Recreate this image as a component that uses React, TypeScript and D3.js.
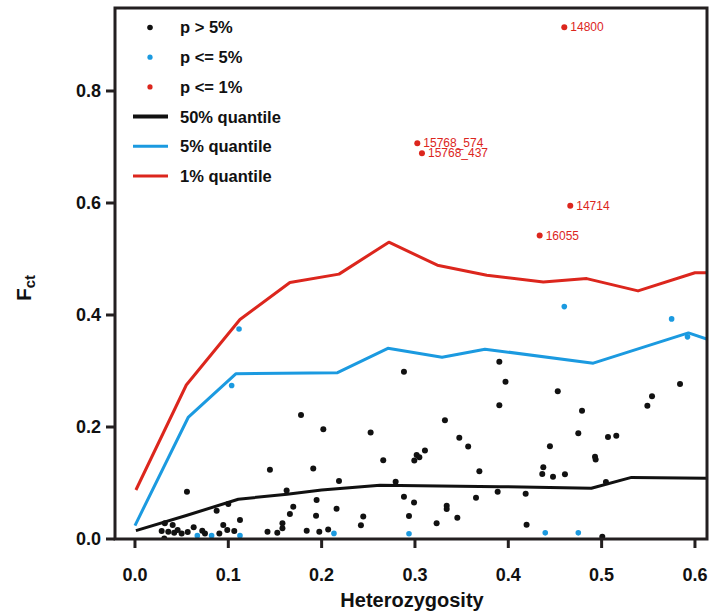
import React, { useEffect, useRef } from "react";
import * as d3 from "d3";

// ---- data ----
const blackPoints: [number, number][] = [
  [0.0557, 0.0845], [0.032, 0.028], [0.0404, 0.025], [0.0286, 0.0143], [0.0357, 0.013],
  [0.042, 0.0113], [0.0457, 0.016], [0.05, 0.01], [0.0565, 0.0125], [0.0629, 0.021],
  [0.0314, 0.001], [0.0721, 0.0148], [0.075, 0.01], [0.0904, 0.01], [0.0946, 0.025],
  [0.0989, 0.016], [0.1064, 0.0143], [0.1125, 0.034], [0.0875, 0.0505], [0.1, 0.0625],
  [0.1446, 0.1235], [0.1779, 0.2214], [0.191, 0.126], [0.2186, 0.1036], [0.1625, 0.0865],
  [0.1946, 0.0696], [0.1696, 0.0577], [0.166, 0.0446], [0.194, 0.0417], [0.216, 0.054],
  [0.158, 0.028], [0.158, 0.019], [0.142, 0.013], [0.1525, 0.0113], [0.184, 0.0148],
  [0.1975, 0.013], [0.207, 0.017],
  [0.2882, 0.2988], [0.2018, 0.196], [0.2525, 0.19], [0.3904, 0.239], [0.3904, 0.3166],
  [0.3321, 0.212], [0.3475, 0.181], [0.357, 0.165], [0.266, 0.1405], [0.3018, 0.15],
  [0.2993, 0.14], [0.3047, 0.146], [0.3107, 0.158], [0.2793, 0.1023], [0.369, 0.121],
  [0.3886, 0.0845], [0.2882, 0.0756], [0.299, 0.065], [0.3654, 0.0738], [0.334, 0.0595],
  [0.334, 0.0536], [0.2936, 0.041], [0.3454, 0.038], [0.3232, 0.028], [0.2446, 0.04],
  [0.2421, 0.0245],
  [0.397, 0.281], [0.453, 0.264], [0.479, 0.229], [0.475, 0.189], [0.4446, 0.1655],
  [0.5068, 0.182], [0.5157, 0.1845], [0.4929, 0.147], [0.4936, 0.142], [0.4375, 0.128],
  [0.4364, 0.116], [0.4479, 0.111], [0.4607, 0.1155], [0.584, 0.277], [0.554, 0.255],
  [0.549, 0.238], [0.4186, 0.081], [0.4196, 0.0256], [0.5046, 0.102], [0.5007, 0.004],
];

const bluePoints: [number, number][] = [
  [0.0668, 0.006], [0.0821, 0.006], [0.1125, 0.006], [0.1036, 0.274], [0.1115, 0.375],
  [0.2132, 0.01], [0.2936, 0.0095], [0.4396, 0.011], [0.475, 0.011], [0.46, 0.415],
  [0.575, 0.393], [0.592, 0.361],
];

const redPoints: [number, number, string][] = [
  [0.46, 0.914, "14800"],
  [0.3025, 0.7066, "15768_574"],
  [0.3075, 0.689, "15768_437"],
  [0.4664, 0.595, "14714"],
  [0.4336, 0.542, "16055"],
];

const q50: [number, number][] = [
  [0.001, 0.015], [0.055, 0.042], [0.1107, 0.071], [0.163, 0.08], [0.2, 0.0875],
  [0.2625, 0.096], [0.326, 0.0945], [0.391, 0.0934], [0.489, 0.0905], [0.532, 0.11], [0.64, 0.108],
];
const q05: [number, number][] = [
  [0.0, 0.024], [0.057, 0.217], [0.108, 0.295], [0.217, 0.297], [0.271, 0.3405],
  [0.329, 0.3245], [0.375, 0.339], [0.491, 0.314], [0.593, 0.368], [0.64, 0.342],
];
const q01: [number, number][] = [
  [0.001, 0.0875], [0.055, 0.275], [0.1125, 0.392], [0.166, 0.458], [0.2186, 0.473],
  [0.272, 0.53], [0.324, 0.489], [0.377, 0.471], [0.4375, 0.459], [0.484, 0.465],
  [0.539, 0.443], [0.6, 0.4755], [0.64, 0.4755],
];

const xTicks = [0.0, 0.1, 0.2, 0.3, 0.4, 0.5, 0.6];
const yTicks = [0.0, 0.2, 0.4, 0.6, 0.8];
const legendLabels = ["p > 5%", "p <= 5%", "p <= 1%", "50% quantile", "5% quantile", "1% quantile"];

const BLACK = "#111111";
const BLUE = "#1b9ae0";
const RED = "#dc261d";
const AXIS = "#231f20";
const FONT = "'Liberation Sans', Arial, sans-serif";

export default function App() {
  const ref = useRef<SVGSVGElement>(null);
  useEffect(() => {
    const left = 115, top = 8, right = 707, bottom = 539;
    const svg = d3.select(ref.current);
    svg.selectAll("*").remove();
    const x = d3.scaleLinear().domain([-0.0214, 0.6129]).range([left, right]);
    const y = d3.scaleLinear().domain([0, 0.9482]).range([bottom, top]);

    svg.append("defs").append("clipPath").attr("id", "plotclip")
      .append("rect").attr("x", left).attr("y", top).attr("width", right - left).attr("height", bottom - top);

    const g = svg.append("g").attr("clip-path", "url(#plotclip)");
    const line = d3.line<[number, number]>().x(d => x(d[0])).y(d => y(d[1]));

    g.append("path").datum(q01).attr("d", line).attr("fill", "none").attr("stroke", RED).attr("stroke-width", 3).attr("stroke-linejoin", "round");
    g.append("path").datum(q05).attr("d", line).attr("fill", "none").attr("stroke", BLUE).attr("stroke-width", 3).attr("stroke-linejoin", "round");
    g.append("path").datum(q50).attr("d", line).attr("fill", "none").attr("stroke", BLACK).attr("stroke-width", 3).attr("stroke-linejoin", "round");

    g.selectAll(".bp").data(blackPoints).enter().append("circle")
      .attr("cx", d => x(d[0])).attr("cy", d => y(d[1])).attr("r", 3).attr("fill", BLACK);
    g.selectAll(".blp").data(bluePoints).enter().append("circle")
      .attr("cx", d => x(d[0])).attr("cy", d => y(d[1])).attr("r", 2.8).attr("fill", BLUE);
    g.selectAll(".rp").data(redPoints).enter().append("circle")
      .attr("cx", d => x(d[0])).attr("cy", d => y(d[1])).attr("r", 3).attr("fill", RED);
    svg.selectAll(".rl").data(redPoints).enter().append("text")
      .attr("x", d => x(d[0]) + 6).attr("y", d => y(d[1]))
      .attr("dy", "0.35em").attr("font-family", FONT).attr("font-size", 12)
      .attr("fill", RED).text(d => d[2]);

    // frame
    svg.append("rect").attr("x", left).attr("y", top).attr("width", right - left).attr("height", bottom - top)
      .attr("fill", "none").attr("stroke", AXIS).attr("stroke-width", 3);

    // axes
    const xa = svg.append("g");
    xTicks.forEach(t => {
      xa.append("line").attr("x1", x(t)).attr("x2", x(t)).attr("y1", bottom).attr("y2", bottom + 9)
        .attr("stroke", AXIS).attr("stroke-width", 3);
      xa.append("text").attr("x", x(t)).attr("y", bottom + 42).attr("text-anchor", "middle")
        .attr("font-family", FONT).attr("font-weight", "bold").attr("font-size", 18).attr("fill", BLACK)
        .text(d3.format(".1f")(t));
    });
    const ya = svg.append("g");
    yTicks.forEach(t => {
      ya.append("line").attr("x1", left - 9).attr("x2", left).attr("y1", y(t)).attr("y2", y(t))
        .attr("stroke", AXIS).attr("stroke-width", 3);
      ya.append("text").attr("x", left - 14).attr("y", y(t)).attr("dy", "0.36em").attr("text-anchor", "end")
        .attr("font-family", FONT).attr("font-weight", "bold").attr("font-size", 18).attr("fill", BLACK)
        .text(d3.format(".1f")(t));
    });

    svg.append("text").attr("x", 412).attr("y", 607).attr("text-anchor", "middle")
      .attr("font-family", FONT).attr("font-weight", "bold").attr("font-size", 20).attr("fill", BLACK)
      .text("Heterozygosity");
    const yt = svg.append("text").attr("transform", "translate(31,288) rotate(-90)").attr("text-anchor", "middle")
      .attr("font-family", FONT).attr("font-weight", "bold").attr("font-size", 21).attr("fill", BLACK);
    yt.append("tspan").text("F");
    yt.append("tspan").attr("font-size", 15).attr("dy", 4).text("ct");

    // legend
    const lg = svg.append("g");
    legendLabels.forEach((lab, i) => {
      const ly = 27.5 + i * 29.7;
      if (i < 3) {
        lg.append("circle").attr("cx", 150).attr("cy", ly).attr("r", i === 0 ? 2.8 : 2.6)
          .attr("fill", [BLACK, BLUE, RED][i]);
      } else {
        lg.append("line").attr("x1", 133).attr("x2", 168).attr("y1", ly).attr("y2", ly)
          .attr("stroke", [BLACK, BLUE, RED][i - 3]).attr("stroke-width", i === 3 ? 4 : 3);
      }
      lg.append("text").attr("x", 180).attr("y", ly).attr("dy", "0.36em")
        .attr("font-family", FONT).attr("font-weight", "bold").attr("font-size", 16.5).attr("fill", BLACK)
        .text(lab);
    });
  }, []);
  return (
    <svg ref={ref} width={710} height={616}
      style={{ position: "absolute", left: 0, top: 0, background: "#fff" }} />
  );
}
